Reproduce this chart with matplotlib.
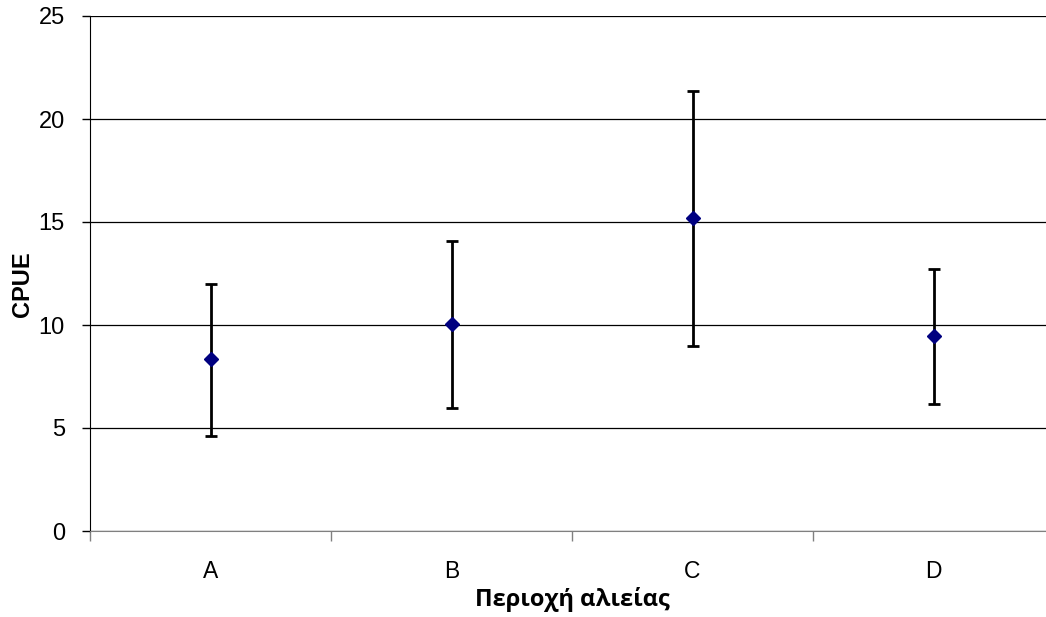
import numpy as np
import matplotlib.pyplot as plt

areas = ["A", "B", "C", "D"]
cpue = [8.35, 10.05, 15.2, 9.45]
err_low = [4.6, 5.95, 9.0, 6.15]
err_high = [12.0, 14.1, 21.35, 12.7]
y_ticks = [0, 5, 10, 15, 20, 25]

plt.rcParams["font.family"] = ["Liberation Sans", "DejaVu Sans"]

fig = plt.figure(figsize=(10.46, 6.17), dpi=100)
ax = fig.add_axes([90 / 1046, 86 / 617, 964 / 1046, 515 / 617])

x = np.arange(len(areas))
cpue = np.array(cpue)
yerr = [cpue - np.array(err_low), np.array(err_high) - cpue]

ax.errorbar(x, cpue, yerr=yerr, fmt="D", color="#000080", markersize=7.5,
            ecolor="black", elinewidth=2, capsize=4.5, capthick=2, zorder=3)

ax.set_xlim(-0.5, 3.5)
ax.set_ylim(0, 25)
ax.set_yticks(y_ticks)
ax.yaxis.grid(True, color="black", linewidth=0.9)
ax.set_axisbelow(True)

# category labels centred, ticks on category boundaries
ax.set_xticks(x)
ax.set_xticklabels(areas, fontsize=16.5)
ax.set_xticks(np.arange(-0.5, 4.0, 1.0), minor=True)
ax.tick_params(axis="x", which="major", length=0, pad=21)
ax.tick_params(axis="x", which="minor", length=7, color="#808080", width=1)
ax.tick_params(axis="y", length=6, width=1, labelsize=17, pad=12)

for s in ["top", "right"]:
    ax.spines[s].set_visible(False)
ax.spines["bottom"].set_color("#808080")
ax.spines["left"].set_color("black")

ax.set_ylabel("CPUE", fontsize=17, fontweight="bold")
ax.yaxis.set_label_coords(-0.058, 0.48)
ax.set_xlabel("Περιοχή αλιείας", fontsize=17, fontweight="bold",
              family=["Open Sans", "DejaVu Sans"], labelpad=3)

fig.savefig("out.png", dpi=100)
